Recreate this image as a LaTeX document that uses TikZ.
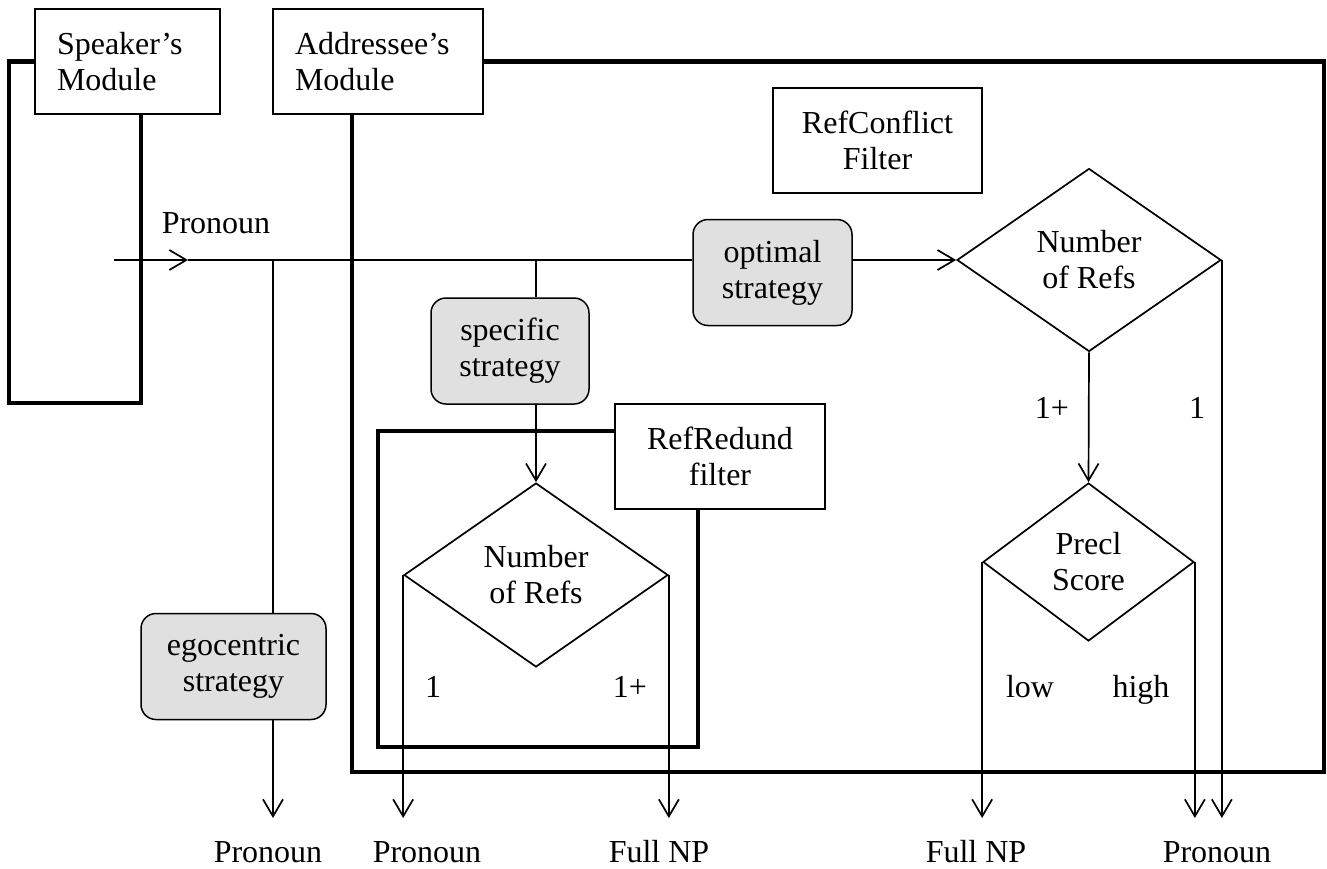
\documentclass[tikz,border=0pt]{standalone}
\usepackage{fontspec}
\setmainfont{Liberation Serif}
\usetikzlibrary{shapes.geometric,arrows.meta}
\definecolor{boxgray}{HTML}{E0E0E0}
\tikzset{
  every node/.style={font=\fontsize{32}{36}\selectfont, inner sep=0pt},
  modbox/.style={draw, line width=1.5pt, minimum height=105pt, align=left, text width=#1, inner xsep=22pt},
  filterbox/.style={draw, line width=1.5pt, minimum height=105pt, align=center},
  stratbox/.style={draw, fill=boxgray, rounded corners=15pt, line width=1.5pt, align=center, minimum height=106pt},
  decision/.style={draw, diamond, line width=1.7pt, align=center},
  flow/.style={line width=1.7pt},
  arr/.style={flow, -{Straight Barb[length=17pt,width=20pt,line width=1.7pt]}},
  frame/.style={line width=4.5pt},
  lab/.style={anchor=base},
}
\begin{document}
\begin{tikzpicture}[x=1pt,y=-1pt]
\useasboundingbox (0,0) rectangle (1327,868);
% frames
\draw[frame] (35,61.5) -- (9,61.5) -- (9,403) -- (141,403) -- (141,114);
\draw[frame] (483,61.5) -- (1324,61.5) -- (1324,772) -- (352,772) -- (352,114);
\draw[frame] (615,431) -- (378,431) -- (378,747) -- (698,747) -- (698,509);
% nodes
\node[modbox=141pt] (spk) at (127.5,61.5) {Speaker’s\\Module};
\node[modbox=166pt] (adr) at (378,61.5) {Addressee’s\\Module};
\node[filterbox, minimum width=209pt] (rc) at (877.5,140.5) {RefConflict\\Filter};
\node[filterbox, minimum width=210pt] (rr) at (720,456.5) {RefRedund\\filter};
\node[stratbox, minimum width=159pt] (opt) at (772.5,272.5) {optimal\\strategy};
\node[stratbox, minimum width=158pt] (spec) at (510,351) {specific\\strategy};
\node[stratbox, minimum width=185pt] (ego) at (233.5,666.5) {egocentric\\strategy};
\node[decision, minimum width=264pt, minimum height=183pt] (d1) at (1089,260) {Number\\of Refs};
\node[decision, minimum width=264pt, minimum height=184pt] (d2) at (536,575) {Number\\of Refs};
\node[decision, minimum width=211pt, minimum height=158pt] (d3) at (1088.5,562) {Precl\\Score};
% coordinates
\coordinate (start) at (114,260);
\coordinate (mid) at (188,260);
\coordinate (j1) at (273,260);
\coordinate (j2) at (536,260);
\coordinate (ybot) at (0,818);
% connectors
\draw[arr] (start) -- (mid);
\draw[flow] (mid) -- (opt.west |- start);
\draw[arr] (opt.east |- start) -- (d1.west);
\draw[flow] (j1) -- (ego.north -| j1);
\draw[arr] (ego.south -| j1) -- (j1 |- ybot);
\draw[flow] (j2) -- (spec.north -| j2);
\draw[arr] (spec.south -| j2) -- (d2.north);
\draw[arr] (d1.south) -- (d3.north);
\draw[arr] (d1.east) -- (d1.east |- ybot);
\draw[arr] (d3.west) -- (d3.west |- ybot);
\draw[arr] (d3.east) -- (d3.east |- ybot);
\draw[arr] (d2.west) -- (d2.west |- ybot);
\draw[arr] (d2.east) -- (d2.east |- ybot);
% labels
\node[lab] (lpro) at (216,233) {Pronoun};
\node[lab] (l1a) at (1052,418) {1+};
\node[lab] (l1b) at (1197,418) {1};
\node[lab] (l2a) at (433,697) {1};
\node[lab] (l2b) at (630,697) {1+};
\node[lab] (llow) at (1030,697) {low};
\node[lab] (lhigh) at (1141,697) {high};
\node[lab] (o1) at (268,862) {Pronoun};
\node[lab] (o2) at (427,862) {Pronoun};
\node[lab] (o3) at (659,862) {Full NP};
\node[lab] (o4) at (976,862) {Full NP};
\node[lab] (o5) at (1217,862) {Pronoun};
\end{tikzpicture}
\end{document}
